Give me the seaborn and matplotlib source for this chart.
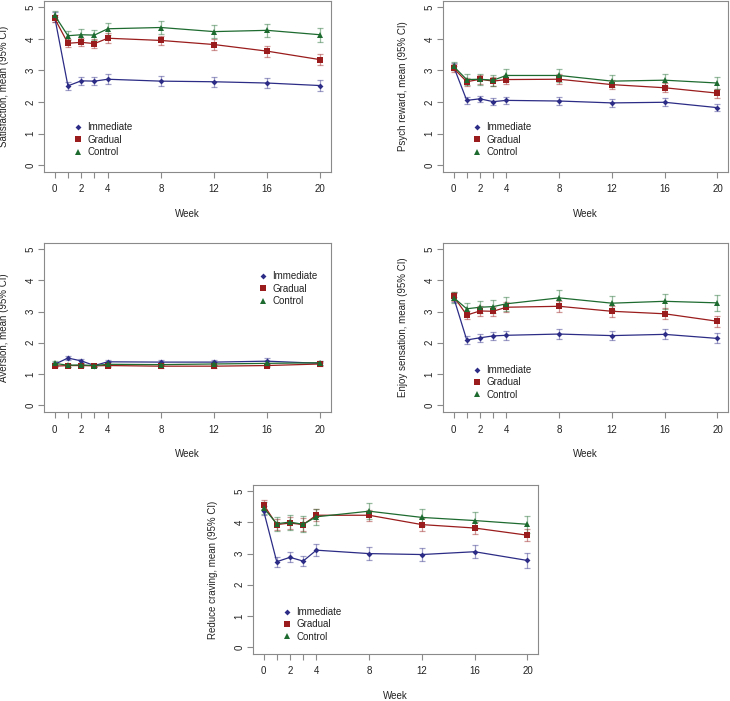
import numpy as np
import pandas as pd
import matplotlib
matplotlib.use("Agg")
import matplotlib.pyplot as plt
from matplotlib.lines import Line2D
import seaborn as sns

weeks = [0, 1, 2, 3, 4, 8, 12, 16, 20]
groups = ["Immediate", "Gradual", "Control"]
xtick_labels = ["0", "", "2", "", "4", "8", "12", "16", "20"]

ylabels = ["Satisfaction, mean (95% CI)", "Psych reward, mean (95% CI)",
           "Aversion, mean (95% CI)", "Enjoy sensation, mean (95% CI)",
           "Reduce craving, mean (95% CI)"]

# Satisfaction
sat_imm = [4.70, 2.51, 2.67, 2.66, 2.72, 2.66, 2.64, 2.60, 2.52]
sat_grad = [4.65, 3.86, 3.89, 3.85, 4.02, 3.95, 3.82, 3.61, 3.34]
sat_ctrl = [4.75, 4.10, 4.13, 4.12, 4.32, 4.36, 4.23, 4.27, 4.13]
sat_imm_ci = [0.15, 0.13, 0.13, 0.13, 0.16, 0.16, 0.16, 0.17, 0.17]
sat_grad_ci = [0.12, 0.13, 0.13, 0.13, 0.15, 0.15, 0.16, 0.17, 0.18]
sat_ctrl_ci = [0.13, 0.15, 0.17, 0.17, 0.19, 0.20, 0.20, 0.21, 0.22]

# Psych reward
psy_imm = [3.13, 2.05, 2.10, 2.01, 2.05, 2.03, 1.97, 1.99, 1.82]
psy_grad = [3.07, 2.64, 2.72, 2.66, 2.71, 2.72, 2.55, 2.45, 2.28]
psy_ctrl = [3.13, 2.71, 2.72, 2.69, 2.84, 2.84, 2.66, 2.69, 2.60]
psy_imm_ci = [0.12, 0.11, 0.10, 0.11, 0.12, 0.12, 0.12, 0.13, 0.10]
psy_grad_ci = [0.12, 0.12, 0.14, 0.14, 0.15, 0.16, 0.15, 0.14, 0.14]
psy_ctrl_ci = [0.13, 0.17, 0.17, 0.17, 0.19, 0.20, 0.20, 0.20, 0.20]

# Aversion
ave_imm = [1.31, 1.51, 1.42, 1.27, 1.39, 1.38, 1.38, 1.41, 1.34]
ave_grad = [1.25, 1.27, 1.27, 1.26, 1.27, 1.25, 1.25, 1.27, 1.32]
ave_ctrl = [1.34, 1.28, 1.29, 1.27, 1.31, 1.30, 1.32, 1.34, 1.36]
ave_imm_ci = [0.06, 0.06, 0.06, 0.05, 0.07, 0.08, 0.08, 0.09, 0.06]
ave_grad_ci = [0.04, 0.05, 0.05, 0.05, 0.05, 0.05, 0.05, 0.05, 0.06]
ave_ctrl_ci = [0.06, 0.05, 0.05, 0.05, 0.06, 0.06, 0.07, 0.07, 0.07]

# Enjoy sensation
enj_imm = [3.46, 2.09, 2.16, 2.22, 2.24, 2.28, 2.23, 2.27, 2.14]
enj_grad = [3.49, 2.89, 3.02, 3.01, 3.14, 3.17, 3.01, 2.93, 2.69]
enj_ctrl = [3.45, 3.09, 3.14, 3.16, 3.25, 3.44, 3.27, 3.33, 3.28]
enj_imm_ci = [0.15, 0.12, 0.13, 0.13, 0.15, 0.15, 0.15, 0.16, 0.16]
enj_grad_ci = [0.14, 0.14, 0.15, 0.15, 0.16, 0.17, 0.18, 0.18, 0.17]
enj_ctrl_ci = [0.17, 0.18, 0.20, 0.21, 0.22, 0.25, 0.23, 0.24, 0.26]

# Reduce craving
red_imm = [4.38, 2.74, 2.88, 2.76, 3.11, 3.00, 2.97, 3.06, 2.78]
red_grad = [4.57, 3.93, 3.98, 3.93, 4.23, 4.23, 3.93, 3.82, 3.59]
red_ctrl = [4.47, 3.96, 4.01, 3.94, 4.18, 4.36, 4.16, 4.06, 3.94]
red_imm_ci = [0.15, 0.16, 0.16, 0.17, 0.19, 0.20, 0.22, 0.21, 0.23]
red_grad_ci = [0.14, 0.18, 0.20, 0.20, 0.20, 0.18, 0.20, 0.20, 0.20]
red_ctrl_ci = [0.20, 0.22, 0.24, 0.25, 0.26, 0.25, 0.27, 0.26, 0.27]

panels = [
    (sat_imm, sat_grad, sat_ctrl, sat_imm_ci, sat_grad_ci, sat_ctrl_ci),
    (psy_imm, psy_grad, psy_ctrl, psy_imm_ci, psy_grad_ci, psy_ctrl_ci),
    (ave_imm, ave_grad, ave_ctrl, ave_imm_ci, ave_grad_ci, ave_ctrl_ci),
    (enj_imm, enj_grad, enj_ctrl, enj_imm_ci, enj_grad_ci, enj_ctrl_ci),
    (red_imm, red_grad, red_ctrl, red_imm_ci, red_grad_ci, red_ctrl_ci),
]

sns.set_theme(style="white")
plt.rcParams["font.family"] = ["Liberation Sans", "DejaVu Sans"]
FS = 7.0
plt.rcParams["font.size"] = FS

colors = {"Immediate": "#2c2c86", "Gradual": "#9a1c1c", "Control": "#1e6b30"}
markers = {"Immediate": "D", "Gradual": "s", "Control": "^"}
msizes = {"Immediate": 3.0, "Gradual": 4.4, "Control": 4.8}
text_c = "#222222"
frame_c = "#8a8a8a"

W, H = 730, 701
fig = plt.figure(figsize=(W / 100, H / 100), dpi=100)

# axes boxes in pixels: (left, top, right, bottom)
boxes = [(44, 1, 331, 172), (443, 1, 728, 172),
         (44, 243, 331, 412), (443, 243, 728, 412),
         (253, 485, 538, 654)]
legend_pos = [(0.10, 0.19), (0.10, 0.19), (0.745, 0.73), (0.10, 0.175), (0.10, 0.175)]

for i, (box, vals) in enumerate(zip(boxes, panels)):
    l, t, r, b = box
    ax = fig.add_axes([l / W, 1 - b / H, (r - l) / W, (b - t) / H])
    means = vals[:3]
    cis = vals[3:]
    df = pd.DataFrame({
        "Week": weeks * 3,
        "Mean": [v for m in means for v in m],
        "Group": [g for g in groups for _ in weeks],
    })
    for g, m, c in zip(groups, means, cis):
        ax.errorbar(weeks, m, yerr=c, fmt="none", ecolor=colors[g], alpha=0.45,
                    capsize=2.2, elinewidth=0.9, capthick=0.9, zorder=1)
    for g in groups:
        sub = df[df["Group"] == g]
        sns.lineplot(data=sub, x="Week", y="Mean", ax=ax, color=colors[g],
                     marker=markers[g], markersize=msizes[g], markeredgewidth=0,
                     linewidth=0.9, estimator=None, errorbar=None, legend=False,
                     zorder=2)
    ax.set_xlim(-0.8, 20.8)
    ax.set_ylim(-0.22, 5.2)
    ax.set_xticks(weeks)
    ax.set_xticklabels(xtick_labels)
    ax.set_yticks([0, 1, 2, 3, 4, 5])
    ax.set_yticklabels(["0", "1", "2", "3", "4", "5"], rotation=90, va="center")
    ax.tick_params(axis="both", which="both", direction="out", length=4, width=0.8,
                   color=frame_c, labelcolor=text_c, labelsize=FS, bottom=True, left=True)
    ax.tick_params(axis="x", pad=5)
    ax.tick_params(axis="y", pad=2)
    for s in ax.spines.values():
        s.set_color(frame_c)
        s.set_linewidth(0.8)
    ax.set_xlabel("Week", color=text_c, fontsize=FS, labelpad=10.5)
    ax.set_ylabel(ylabels[i], color=text_c, fontsize=FS, labelpad=12)
    handles = [Line2D([], [], linestyle="none", marker=markers[g], color=colors[g],
                      markersize=msizes[g], markeredgewidth=0) for g in groups]
    ax.legend(handles, groups, loc="center left", bbox_to_anchor=legend_pos[i],
              frameon=False, fontsize=FS, handlelength=1.05, handletextpad=0.45,
              labelspacing=0.25, borderpad=0, borderaxespad=0, labelcolor=text_c)
    ax.set_facecolor("white")

fig.savefig("out.png", dpi=100, facecolor="white")
